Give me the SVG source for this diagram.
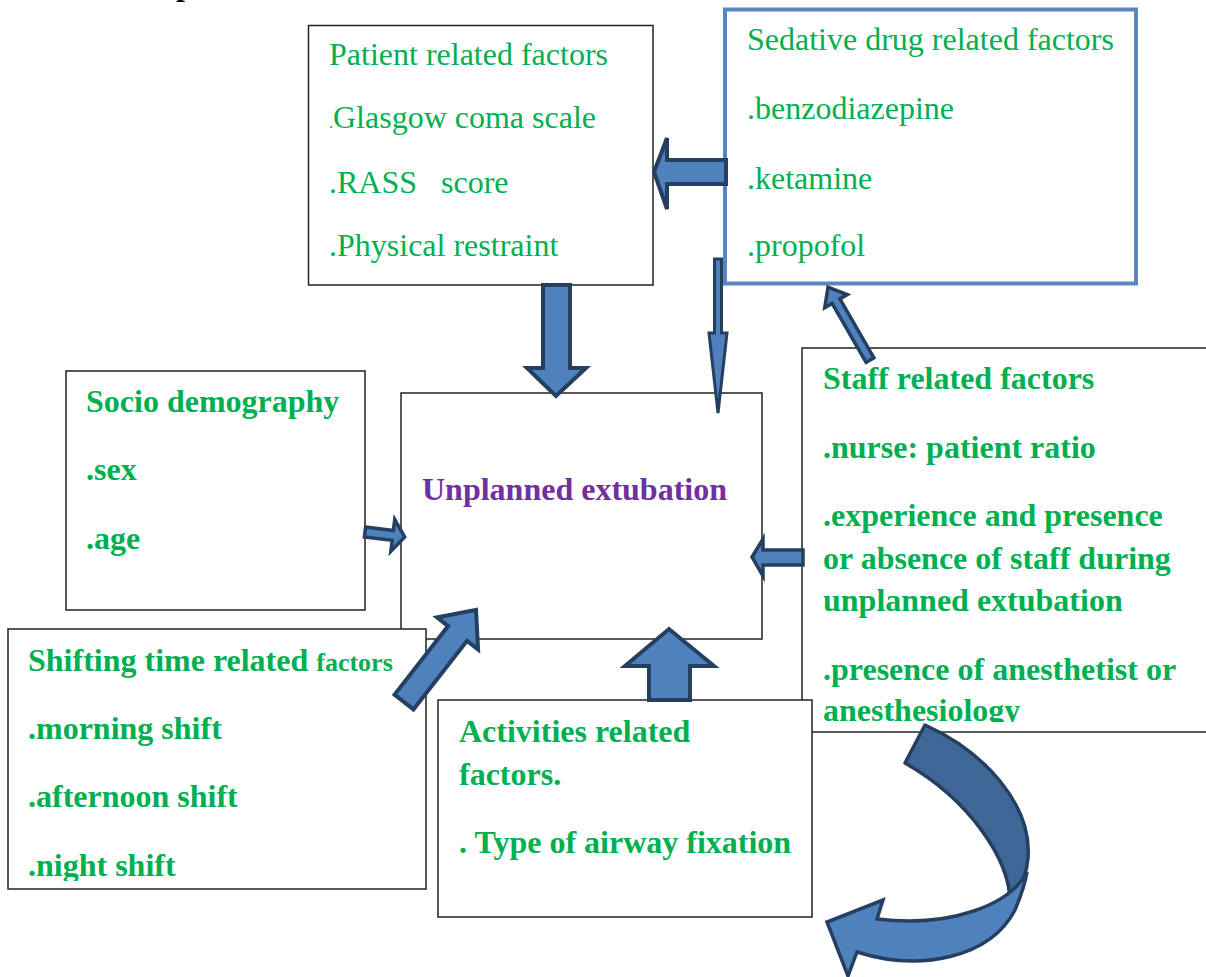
<svg xmlns="http://www.w3.org/2000/svg" width="1206" height="977" viewBox="0 0 1206 977">
<style>
.box{fill:#fff;stroke:#222;stroke-width:1.5}
.t{font-family:"Liberation Serif","Times New Roman",serif;font-size:32px;fill:#00B050;white-space:pre}
.b{font-weight:bold}
.arr{fill:#4F81BD;stroke:#243F60;stroke-width:4;stroke-linejoin:miter}
.thin{stroke-width:3.5}
</style>
<defs>
<clipPath id="clipStaff"><rect x="800" y="340" width="420" height="382"/></clipPath>
<clipPath id="clipShift"><rect x="8" y="629" width="418" height="252"/></clipPath>
</defs>
<rect width="1206" height="977" fill="#fff"/>
<text x="176" y="-5" class="t b" style="fill:#000">p</text>

<g id="patient">
<rect class="box" x="308.5" y="25.5" width="344.5" height="259.5"/>
<text class="t" x="329" y="65">Patient related factors</text>
<text class="t" x="329" y="128"><tspan style="font-size:16px">.</tspan>Glasgow coma scale</text>
<text class="t" x="329" y="193">.RASS   score</text>
<text class="t" x="329" y="256">.Physical restraint</text>
</g>

<g id="sedative">
<rect x="725" y="9.5" width="411" height="274" fill="#fff" stroke="#5A85C0" stroke-width="4"/>
<text class="t" x="747" y="50">Sedative drug related factors</text>
<text class="t" x="747" y="119">.benzodiazepine</text>
<text class="t" x="747" y="189">.ketamine</text>
<text class="t" x="747" y="256">.propofol</text>
</g>

<g id="socio">
<rect class="box" x="66" y="371" width="299" height="239"/>
<text class="t b" x="86" y="412">Socio demography</text>
<text class="t b" x="86" y="480">.sex</text>
<text class="t b" x="86" y="549">.age</text>
</g>

<g id="unplanned">
<rect class="box" x="401" y="393" width="361" height="246"/>
<text class="t b" x="422" y="500" style="fill:#7030A0">Unplanned extubation</text>
</g>

<g id="shifting">
<rect class="box" x="8" y="629" width="418" height="260"/>
<g clip-path="url(#clipShift)">
<text class="t b" x="28" y="671">Shifting time related <tspan style="font-size:26px">factors</tspan></text>
<text class="t b" x="28" y="739">.morning shift</text>
<text class="t b" x="28" y="807">.afternoon shift</text>
<text class="t b" x="28" y="876">.night shift</text>
</g>
</g>

<g id="staff">
<rect class="box" x="802" y="348" width="420" height="384"/>
<g clip-path="url(#clipStaff)">
<text class="t b" x="823" y="389">Staff related factors</text>
<text class="t b" x="823" y="458">.nurse: patient ratio</text>
<text class="t b" x="823" y="526">.experience and presence</text>
<text class="t b" x="823" y="569">or absence of staff during</text>
<text class="t b" x="823" y="611">unplanned extubation</text>
<text class="t b" x="823" y="680">.presence of anesthetist or</text>
<text class="t b" x="823" y="721">anesthesiology</text>
</g>
</g>

<g id="activities">
<rect class="box" x="438" y="700" width="374" height="217"/>
<text class="t b" x="459" y="742">Activities related</text>
<text class="t b" x="459" y="785">factors.</text>
<text class="t b" x="459" y="853">. Type of airway fixation</text>
</g>

<g id="connectors">
<path class="arr" d="M654,172 L667,138 L667,160 L726,160 L726,184 L667,184 L667,209 Z"/>
<path class="arr" style="stroke-width:3" d="M714.5,259 L721.5,259 L721.5,333 L727,333 L718,413 L709,333 L714.5,333 Z"/>
<path class="arr" d="M543,285 L570,285 L570,368 L586,368 L556,396 L527,368 L543,368 Z"/>
<path class="arr thin" transform="translate(365,532) rotate(7)" d="M0,-5 L28,-5 L28,-16 L40,0 L28,16 L28,5 L0,5 Z"/>
<path class="arr" transform="translate(404,702) rotate(-52)" d="M0,-12 L87,-12 L87,-26 L117,0 L87,26 L87,12 L0,12 Z"/>
<path class="arr" d="M649,700 L690,700 L690,666 L714,666 L669,629 L625,666 L649,666 Z"/>
<path class="arr thin" d="M752,557 L763,539 L763,550 L803,550 L803,565 L763,565 L763,576 Z"/>
<path class="arr thin" transform="translate(870,360) rotate(-120)" d="M0,-4.5 L68,-4.5 L68,-13 L84,0 L68,13 L68,4.5 L0,4.5 Z"/>
<path fill="#3E6797" stroke="#243F60" stroke-width="3.5" stroke-linejoin="round" d="M925,725 C985,752 1032,805 1028,858 C1026,880 1018,893 1010,902 C1010,860 970,800 905,763 Z"/>
<path fill="#4F81BD" stroke="#243F60" stroke-width="3.5" stroke-linejoin="miter" d="M877,919 L883,900 L827,922 L848,976 L857,952 C920,972 990,958 1015,910 C1020,898 1025,885 1027,872 C1010,905 950,928 877,919 Z"/>
</g>
</svg>
